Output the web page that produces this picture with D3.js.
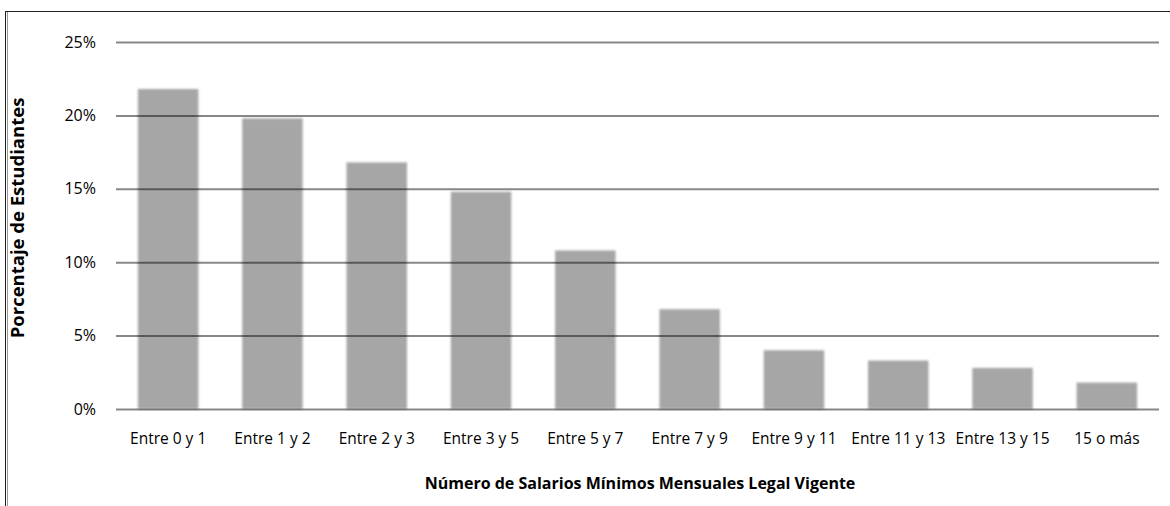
<!DOCTYPE html>
<html>
<head>
<meta charset="utf-8">
<script src="https://cdn.jsdelivr.net/npm/d3@7"></script>
<style>
  html, body { margin: 0; padding: 0; background: #fff; }
  svg { display: block; }
  text { font-family: "Open Sans", "Noto Sans", sans-serif; fill: #000; }
</style>
</head>
<body>
<svg id="chart" width="1170" height="506"></svg>
<script>
// Distribution of students by household income bracket (minimum monthly wages)
const categories = [
  "Entre 0 y 1", "Entre 1 y 2", "Entre 2 y 3", "Entre 3 y 5", "Entre 5 y 7",
  "Entre 7 y 9", "Entre 9 y 11", "Entre 11 y 13", "Entre 13 y 15", "15 o más"
];
const percentages = [21.8, 19.8, 16.8, 14.8, 10.8, 6.8, 4.0, 3.3, 2.8, 1.8];
const yTicks = [0, 5, 10, 15, 20, 25];
const xTitle = "Número de Salarios Mínimos Mensuales Legal Vigente";
const yTitle = "Porcentaje de Estudiantes";

const svg = d3.select("#chart");
const W = 1170, H = 506;
const plot = { left: 116, right: 1159, top: 42, bottom: 409 };

// outer frame (left and top edges visible)
svg.append("line").attr("x1", 5.5).attr("x2", 5.5).attr("y1", 11).attr("y2", H)
  .attr("stroke", "#222").attr("stroke-width", 1);
svg.append("line").attr("x1", 7.5).attr("x2", 7.5).attr("y1", 11).attr("y2", H)
  .attr("stroke", "#999").attr("stroke-width", 1);
svg.append("line").attr("x1", 5).attr("x2", W).attr("y1", 11.5).attr("y2", 11.5)
  .attr("stroke", "#222").attr("stroke-width", 1);

const x = d3.scaleBand().domain(categories).range([plot.left, plot.right])
  .paddingInner(0.42).paddingOuter(0.21);
const y = d3.scaleLinear().domain([0, 25]).range([plot.bottom, plot.top]);

// soft edges on the bars
const defs = svg.append("defs");
defs.append("filter").attr("id", "soft")
  .attr("x", "-10%").attr("y", "-10%").attr("width", "120%").attr("height", "120%")
  .append("feGaussianBlur").attr("stdDeviation", 1.3);

svg.append("g").attr("filter", "url(#soft)")
  .selectAll("rect").data(percentages).join("rect")
  .attr("x", (d, i) => x(categories[i]))
  .attr("width", x.bandwidth())
  .attr("y", d => y(d))
  .attr("height", d => y(0) - y(d))
  .attr("fill", "#a6a6a6");

// horizontal gridlines drawn over the bars
const yAxis = d3.axisLeft(y).tickValues(yTicks)
  .tickFormat(d => d + "%")
  .tickSize(-(plot.right - plot.left)).tickPadding(20);
const gy = svg.append("g").attr("transform", `translate(${plot.left},0)`).call(yAxis);
gy.select(".domain").remove();
gy.selectAll(".tick line").attr("stroke", "#000").attr("stroke-opacity", 0.47)
  .attr("stroke-width", 2);
gy.selectAll(".tick text").attr("font-size", 16).attr("fill", "#000");

// category axis
const xAxis = d3.axisBottom(x).tickSize(0).tickPadding(24);
const gx = svg.append("g").attr("transform", `translate(0,${plot.bottom})`).call(xAxis);
gx.select(".domain").remove();
gx.selectAll(".tick text").attr("font-size", 15.5).attr("fill", "#000");

// axis titles
svg.append("text").attr("x", 640).attr("y", 489)
  .attr("text-anchor", "middle").attr("font-size", 16).attr("font-weight", "bold")
  .text(xTitle);
svg.append("text")
  .attr("transform", `translate(24,218) rotate(-90)`)
  .attr("text-anchor", "middle").attr("font-size", 18.5).attr("font-weight", "bold")
  .text(yTitle);
</script>
</body>
</html>
